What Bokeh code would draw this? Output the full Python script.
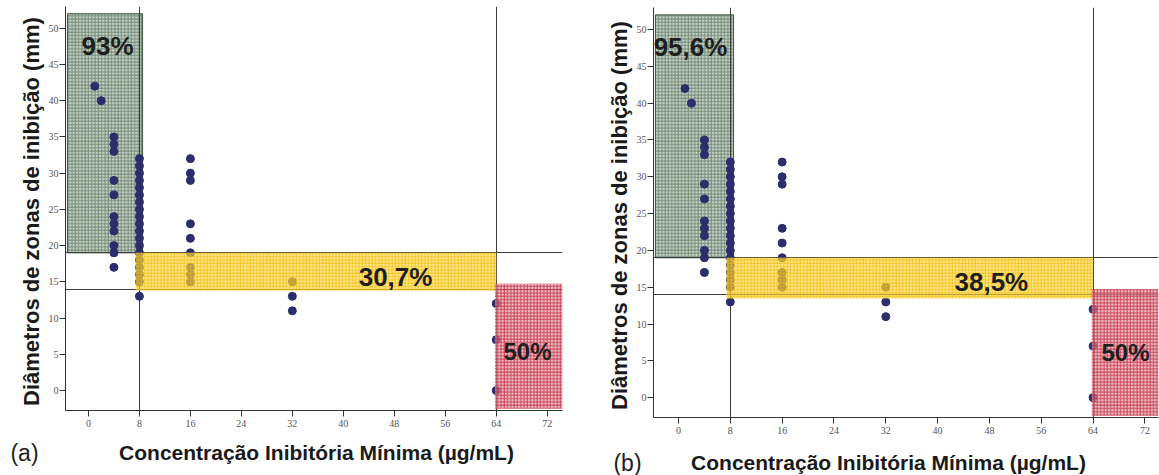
from bokeh.plotting import figure
from bokeh.layouts import row, column
from bokeh.models import Label, FixedTicker, Range1d
from bokeh.embed import file_html
from bokeh.resources import INLINE

# Minimum inhibitory concentration (µg/mL) of each isolate
mic = ([1, 2]
       + [4] * 11
       + [8] * 19
       + [16] * 9
       + [32] * 3
       + [64] * 3)

# Inhibition zone diameter (mm) of each isolate
diameter = ([42, 40]
            + [35, 34, 33, 29, 27, 24, 23, 22, 20, 19, 17]
            + [32, 31, 30, 29, 28, 27, 26, 25, 24, 23, 22, 21, 20, 19, 18, 17, 16, 15, 13]
            + [32, 30, 29, 23, 21, 19, 17, 16, 15]
            + [15, 13, 11]
            + [12, 7, 0])

# Breakpoints
mic_breaks = [8, 64]
diam_breaks = [14, 19]

x_ticks = [0, 8, 16, 24, 32, 40, 48, 56, 64, 72]
y_ticks = [0, 5, 10, 15, 20, 25, 30, 35, 40, 45, 50]

# Agreement percentages per zone, for the two panels
panel_tags = ["(a)", "(b)"]
pct_susceptible = ["93%", "95,6%"]
pct_intermediate = ["30,7%", "38,5%"]
pct_resistant = ["50%", "50%"]

X_TITLE = "Concentração Inibitória Mínima (µg/mL)"
Y_TITLE = "Diâmetros de zonas de inibição  (mm)"

FONT = "Liberation Sans"
POINT = "#2b2d6c"
TOTAL_H = 475


def make_panel(i, width, main_h, borders, xr, yr, yellow_bottom, label_pos,
               tag_x, title_x, strip_y):
    left, right, top, bottom = borders
    p = figure(width=width, height=main_h, x_range=xr, y_range=yr,
               output_backend="svg", toolbar_location=None,
               min_border_left=left, min_border_right=right,
               min_border_top=top, min_border_bottom=bottom,
               frame_align=False)
    p.outline_line_color = None
    p.xgrid.visible = False
    p.ygrid.visible = False

    for ax, ticks in ((p.xaxis, x_ticks), (p.yaxis, y_ticks)):
        ax.ticker = FixedTicker(ticks=ticks)
        ax.minor_tick_line_color = None
        ax.major_tick_in = 0
        ax.major_tick_out = 6
        ax.axis_line_color = "#333333"
        ax.major_tick_line_color = "#333333"
        ax.major_label_text_font = "Liberation Sans Narrow"
        ax.major_label_text_font_size = "10px"
        ax.major_label_text_color = "#555555"
        ax.axis_label_text_font = FONT
        ax.axis_label_text_font_style = "bold"
        ax.axis_label_text_color = "#1a1a1a"
    p.yaxis.major_label_standoff = 1
    p.xaxis.major_label_standoff = 3
    p.yaxis.axis_label = Y_TITLE
    p.yaxis.axis_label_text_font_size = "22px"
    p.yaxis.axis_label_standoff = 2

    x0, x1 = xr
    y0, y1 = yr

    # susceptible zone (green)
    p.quad(left=x0 + 0.3, right=8.5, bottom=19, top=52,
           fill_color="#c8d3c8", fill_alpha=1.0,
           hatch_pattern="+", hatch_color="#3a5a42", hatch_scale=3.3,
           hatch_weight=1, hatch_alpha=0.62,
           line_color="#3a5540", line_width=1)

    # breakpoint lines
    p.vspan(x=mic_breaks, line_color="#3c3c3c", line_width=1)
    p.hspan(y=diam_breaks, line_color="#3c3c3c", line_width=1)

    p.scatter(mic, diameter, size=8, fill_color=POINT, line_color=POINT)

    # intermediate zone (yellow), drawn over the points
    p.quad(left=7.4, right=64, bottom=yellow_bottom, top=19,
           fill_color="#ffd848", fill_alpha=0.6,
           hatch_pattern="+", hatch_color="#f0b800", hatch_scale=3.3,
           hatch_weight=1, hatch_alpha=0.75,
           line_color=None)

    # resistant zone (red)
    p.quad(left=63.8, right=x1, bottom=y0 + 0.25, top=14.75,
           fill_color="#e4a0ab", fill_alpha=0.65,
           hatch_pattern="+", hatch_color="#c22238", hatch_scale=3.3,
           hatch_weight=1, hatch_alpha=0.8,
           line_color=None)

    (sx, sy), (ix, iy), (rx, ry) = label_pos
    for (tx, ty, txt, fs) in ((sx, sy, pct_susceptible[i], "26px"),
                              (ix, iy, pct_intermediate[i], "26px"),
                              (rx, ry, pct_resistant[i], "24px")):
        p.add_layout(Label(x=tx, y=ty, text=txt, text_font=FONT,
                           text_font_style="bold", text_font_size=fs,
                           text_color="#1e1e1e", text_align="center",
                           text_baseline="middle"))

    # strip under the plot carrying the x-axis title and the panel tag
    strip_h = TOTAL_H - main_h
    s = figure(width=width, height=strip_h,
               x_range=Range1d(0, width), y_range=Range1d(strip_h, 0),
               output_backend="svg", toolbar_location=None,
               min_border=0, outline_line_color=None, frame_align=False)
    s.axis.visible = False
    s.grid.visible = False
    s.add_layout(Label(x=title_x, y=strip_y, text=X_TITLE, text_font=FONT,
                       text_font_style="bold", text_font_size="21px",
                       text_color="#1a1a1a", text_align="center",
                       text_baseline="middle"))
    s.add_layout(Label(x=tag_x, y=strip_y, text=panel_tags[i], text_font=FONT,
                       text_font_size="23px", text_color="#1e1e1e",
                       text_align="center", text_baseline="middle"))
    return column(p, s, spacing=0)


pa = make_panel(0, 580, 435, (65, 18, 6, 25), (-3.6, 74.4), (-2.76, 53.0), 13.8,
                ((3.0, 47.6), (48.2, 15.6), (68.9, 5.4)),
                24, 316, 17)
pb = make_panel(1, 579, 440, (73, 1, 7, 23), (-3.86, 74.1), (-2.7, 53.0), 13.45,
                ((1.85, 47.6), (48.3, 15.7), (69.0, 6.1)),
                47, 308, 22)

layout = row(pa, pb, spacing=0)
open("out.html", "w").write(file_html(layout, INLINE))
